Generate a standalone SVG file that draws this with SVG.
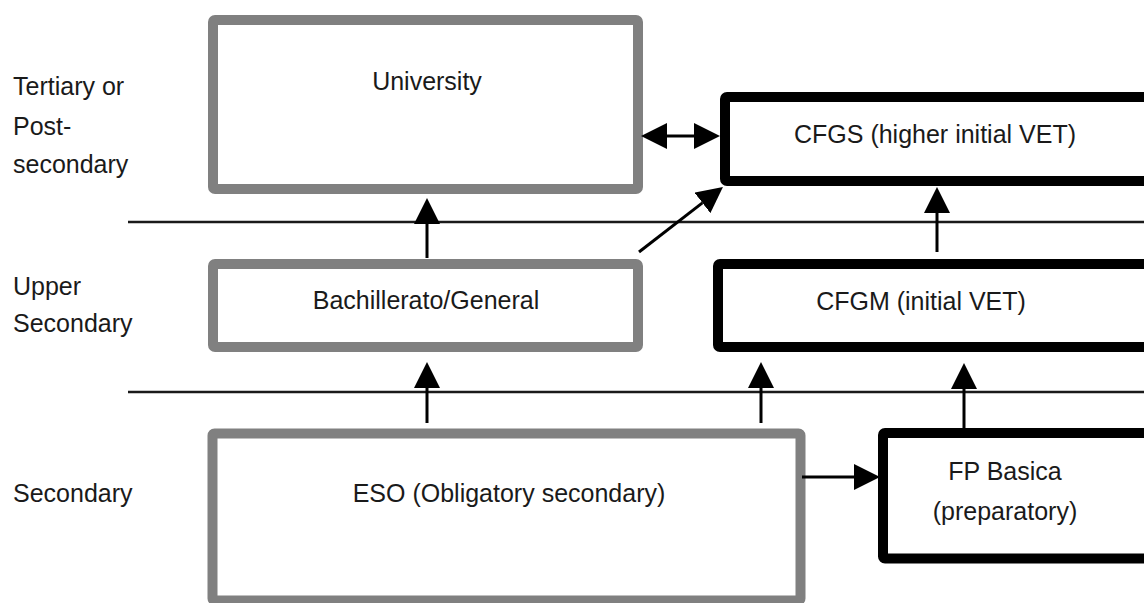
<svg xmlns="http://www.w3.org/2000/svg" width="1144" height="603" viewBox="0 0 1144 603">
<style>
text{font-family:"Liberation Sans",Arial,sans-serif;font-size:25px;fill:#1a1a1a}
.c{text-anchor:middle}
.gray{fill:#fff;stroke:#808080;stroke-width:10}
.blk{fill:#fff;stroke:#000;stroke-width:10}
.sep{stroke:#1a1a1a;stroke-width:2.5}
.arr{stroke:#000;stroke-width:3;fill:none}
</style>
<defs>
<marker id="ah" markerUnits="userSpaceOnUse" markerWidth="26" markerHeight="26" viewBox="0 0 26 26" refX="0" refY="13" orient="auto-start-reverse">
<path d="M0,0 L26,13 L0,26 z" fill="#000"/>
</marker>
</defs>
<rect width="1144" height="603" fill="#fff"/>
<g id="levels">
<line class="sep" x1="128" y1="222" x2="1144" y2="222"/>
<line class="sep" x1="128" y1="392" x2="1144" y2="392"/>
<text x="13" y="95">Tertiary or</text>
<text x="13" y="135">Post-</text>
<text x="13" y="173">secondary</text>
<text x="13" y="295">Upper</text>
<text x="13" y="332">Secondary</text>
<text x="13" y="502">Secondary</text>
</g>
<g id="university">
<rect class="gray" x="213" y="20" width="425" height="169" rx="2"/>
<text class="c" x="427" y="90">University</text>
</g>
<g id="cfgs">
<rect class="blk" x="725" y="97" width="440" height="84" rx="2"/>
<text class="c" x="935" y="143">CFGS (higher initial VET)</text>
</g>
<g id="bachillerato">
<rect class="gray" x="213" y="264" width="425" height="83" rx="2"/>
<text class="c" x="426" y="309">Bachillerato/General</text>
</g>
<g id="cfgm">
<rect class="blk" x="718" y="264" width="450" height="83" rx="2"/>
<text class="c" x="921" y="310">CFGM (initial VET)</text>
</g>
<g id="eso">
<rect class="gray" x="212.5" y="433.5" width="588" height="167" rx="2"/>
<text class="c" x="509" y="502">ESO (Obligatory secondary)</text>
</g>
<g id="fpbasica">
<rect class="blk" x="883" y="433" width="290" height="125.5" rx="2"/>
<text class="c" x="1005" y="480">FP Basica</text>
<text class="c" x="1005" y="520">(preparatory)</text>
</g>
<g id="connectors">
<line class="arr" x1="427" y1="258" x2="427" y2="224" marker-end="url(#ah)"/>
<line class="arr" x1="427" y1="423" x2="427" y2="388" marker-end="url(#ah)"/>
<line class="arr" x1="761" y1="423" x2="761" y2="388" marker-end="url(#ah)"/>
<line class="arr" x1="964" y1="428" x2="964" y2="389" marker-end="url(#ah)"/>
<line class="arr" x1="937" y1="252" x2="937" y2="213" marker-end="url(#ah)"/>
<line class="arr" x1="639" y1="252" x2="702.4" y2="202.9" marker-end="url(#ah)"/>
<line class="arr" x1="802" y1="477" x2="854" y2="477" marker-end="url(#ah)"/>
<line class="arr" x1="667" y1="136" x2="694" y2="136" marker-start="url(#ah)" marker-end="url(#ah)"/>
</g>
</svg>
